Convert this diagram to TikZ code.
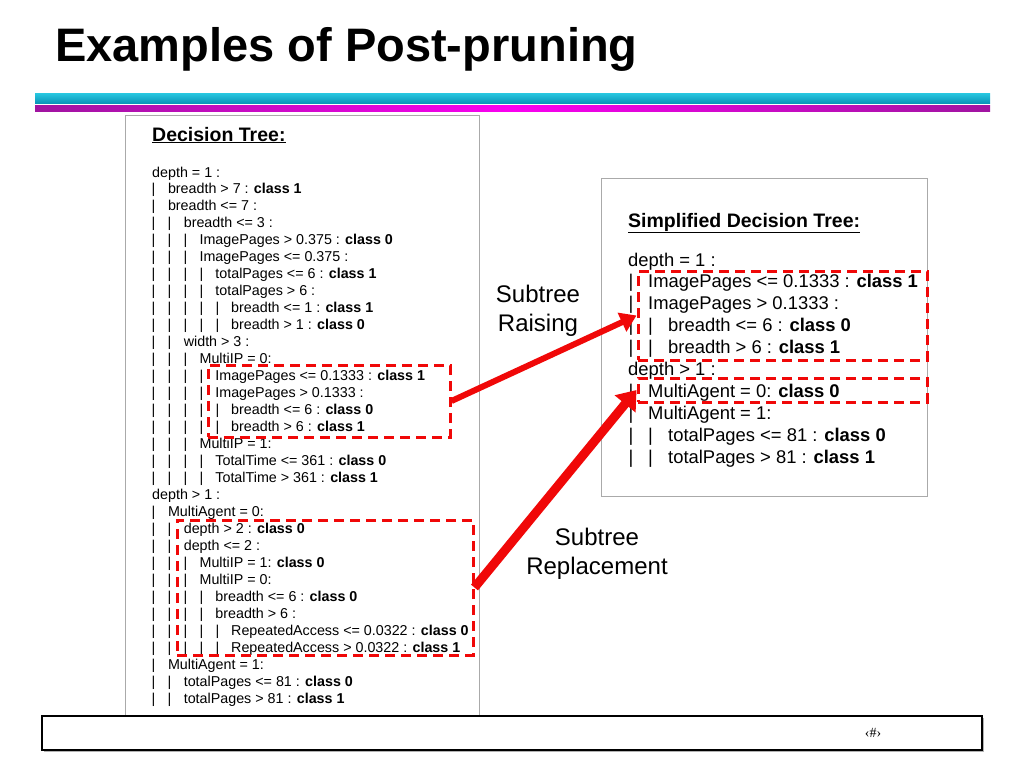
\documentclass[tikz,border=0pt]{standalone}
\usepackage{fontspec}
\setmainfont{Liberation Sans}
\newfontfamily\serifft{Liberation Serif}
\usetikzlibrary{arrows.meta}
\definecolor{myred}{RGB}{240,8,8}
\definecolor{cyanA}{RGB}{40,200,225}
\definecolor{cyanB}{RGB}{10,150,185}
\definecolor{magA}{RGB}{160,20,160}
\definecolor{magB}{RGB}{250,0,240}
\definecolor{boxgray}{RGB}{170,170,170}
\begin{document}
\begin{tikzpicture}[x=1pt,y=-1pt,
  txt/.style={inner sep=0pt, anchor=base west},
  ltree/.style={txt, font=\fontsize{14.3}{17}\selectfont},
  lpipe/.style={inner sep=0pt, anchor=base, font=\fontsize{14.3}{17}\selectfont},
  rtree/.style={txt, font=\fontsize{18.4}{22}\selectfont},
  rpipe/.style={inner sep=0pt, anchor=base, font=\fontsize{18.4}{22}\selectfont},
  heading/.style={txt, font=\fontsize{19.5}{22}\selectfont\bfseries},
  label/.style={inner sep=0pt, anchor=base, font=\fontsize{24}{29}\selectfont},
  dbox/.style={draw=myred, line width=3pt, dash pattern=on 10pt off 6pt, inner sep=0pt},
  graybox/.style={draw=boxgray, line width=0.8pt, inner sep=0pt},
  bigarrow/.style={draw=myred, fill=myred}]
\useasboundingbox (0,0) rectangle (1024,768);
\fill[white] (0,0) rectangle (1024,768);
% title
\node[txt, font=\fontsize{47}{50}\selectfont\bfseries] (title) at (55,62) {Examples of Post-pruning};
\shade[top color=cyanA, bottom color=cyanB] (35,93) rectangle (990,103);
\shade[left color=magA, right color=magA, middle color=magB] (35,105) rectangle (990,111);
% boxes
\node[graybox, minimum width=354pt, minimum height=600pt] (lbox) at (302,415) {};
\node[graybox, minimum width=326pt, minimum height=318pt] (rbox) at (764,337) {};
% left tree
\node[heading] (lhead) at (152,141) {\underline{Decision Tree:}};
\foreach \lv/\tx [count=\i from 0] in {
0/{depth = 1 :},
1/{breadth > 7 : \textbf{class 1}},
1/{breadth <= 7 :},
2/{breadth <= 3 :},
3/{ImagePages > 0.375 : \textbf{class 0}},
3/{ImagePages <= 0.375 :},
4/{totalPages <= 6 : \textbf{class 1}},
4/{totalPages > 6 :},
5/{breadth <= 1 : \textbf{class 1}},
5/{breadth > 1 : \textbf{class 0}},
2/{width > 3 :},
3/{MultiIP = 0:},
4/{ImagePages <= 0.1333 : \textbf{class 1}},
4/{ImagePages > 0.1333 :},
5/{breadth <= 6 : \textbf{class 0}},
5/{breadth > 6 : \textbf{class 1}},
3/{MultiIP = 1:},
4/{TotalTime <= 361 : \textbf{class 0}},
4/{TotalTime > 361 : \textbf{class 1}},
0/{depth > 1 :},
1/{MultiAgent = 0:},
2/{depth > 2 : \textbf{class 0}},
2/{depth <= 2 :},
3/{MultiIP = 1: \textbf{class 0}},
3/{MultiIP = 0:},
4/{breadth <= 6 : \textbf{class 0}},
4/{breadth > 6 :},
5/{RepeatedAccess <= 0.0322 : \textbf{class 0}},
5/{RepeatedAccess > 0.0322 : \textbf{class 1}},
1/{MultiAgent = 1:},
2/{totalPages <= 81 : \textbf{class 0}},
2/{totalPages > 81 : \textbf{class 1}}}
{
  \node[ltree] (L\i) at ({152+15.8*\lv},{177+16.97*\i}) {\tx};
  \ifnum\lv>0
    \foreach \j in {1,...,\lv}
      \node[lpipe] (LP\i-\j) at ({153.5+16*(\j-1)},{177+16.97*\i}) {|};
  \fi
}
% right tree
\node[heading] (rhead) at (628,227) {\underline{Simplified Decision Tree:}};
\foreach \lv/\tx [count=\i from 0] in {
0/{depth = 1 :},
1/{ImagePages <= 0.1333 : \textbf{class 1}},
1/{ImagePages > 0.1333 :},
2/{breadth <= 6 : \textbf{class 0}},
2/{breadth > 6 : \textbf{class 1}},
0/{depth > 1 :},
1/{MultiAgent = 0: \textbf{class 0}},
1/{MultiAgent = 1:},
2/{totalPages <= 81 : \textbf{class 0}},
2/{totalPages > 81 : \textbf{class 1}}}
{
  \node[rtree] (R\i) at ({628+20*\lv},{266+21.9*\i}) {\tx};
  \ifnum\lv>0
    \foreach \j in {1,...,\lv}
      \node[rpipe] (RP\i-\j) at ({631+19.5*(\j-1)},{266+21.9*\i}) {|};
  \fi
}
% dashed boxes
\node[dbox, minimum width=242pt, minimum height=72pt] (b1) at (329,401) {};
\node[dbox, minimum width=296pt, minimum height=135pt] (b2) at (325,587.5) {};
\node[dbox, minimum width=289pt, minimum height=89pt] (b3) at (782.5,315.5) {};
\node[dbox, minimum width=289pt, minimum height=24pt] (b4) at (782.5,390) {};
% labels
\node[label] (ra1) at (538,302) {Subtree};
\node[label] (ra2) at (538,331) {Raising};
\node[label] (re1) at (597,545) {Subtree};
\node[label] (re2) at (597,574) {Replacement};
% arrows
\draw[myred, line width=6pt, -{Triangle[length=16pt,width=20pt]}] (b1.east) -- (b3.west);
\draw[myred, line width=9pt, -{Triangle[length=18pt,width=26pt]}] (b2.east) -- (b4.west);
% footer
\fill[gray!60] (44,718) rectangle (984,752);
\node[draw=black, fill=white, line width=1.2pt, minimum width=940pt, minimum height=34pt, inner sep=0pt] (foot) at (512,733) {};
\node[inner sep=0pt, font=\serifft\fontsize{14}{16}\selectfont] (pg) at (873,733) {‹\#›};
\end{tikzpicture}
\end{document}
